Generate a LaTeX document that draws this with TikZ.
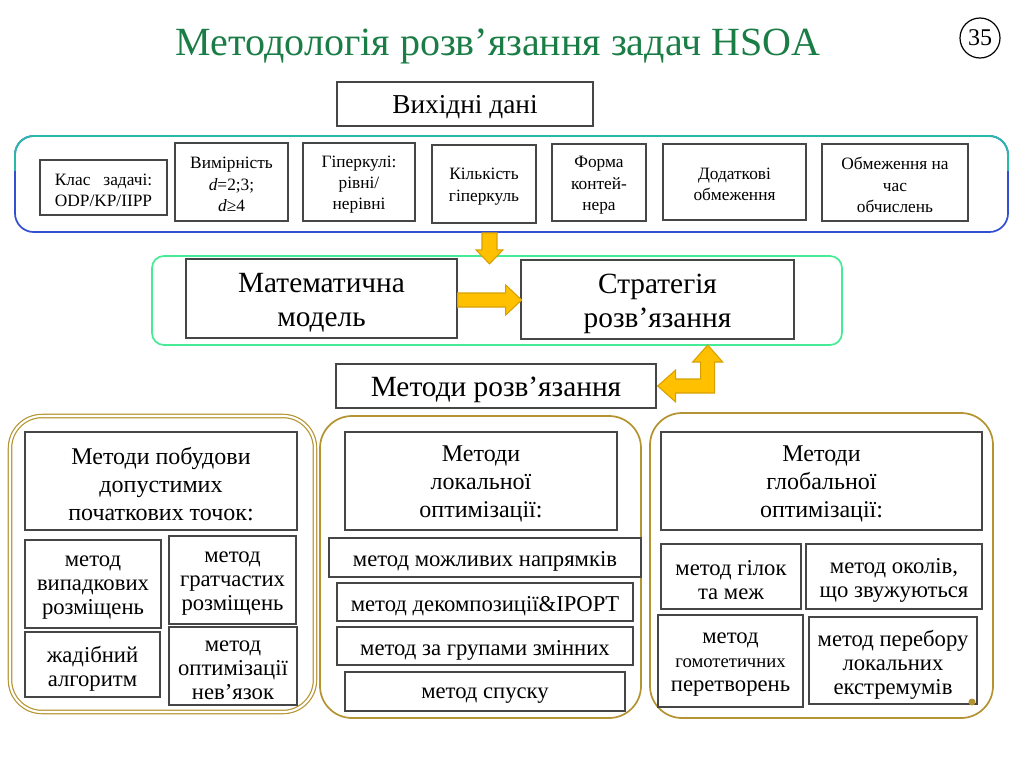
\documentclass[tikz,border=0pt]{standalone}
\usepackage{fontspec}
\setmainfont{Liberation Serif}
\usetikzlibrary{calc}
\definecolor{ttl}{RGB}{27,125,70}
\definecolor{bxc}{RGB}{70,70,70}
\definecolor{gold}{RGB}{180,148,50}
\definecolor{arrf}{RGB}{255,192,0}
\definecolor{arrd}{RGB}{215,160,0}
\definecolor{mint}{RGB}{70,235,150}
\definecolor{tealc}{RGB}{40,185,170}
\definecolor{bluec}{RGB}{50,80,210}
\tikzset{
  box/.style={draw=bxc, line width=1pt, fill=white, inner sep=0pt},
  btext/.style={align=center, inner sep=0pt},
  region/.style={line width=1.3pt, inner sep=0pt},
  blockarrow/.style={fill=arrf, draw=arrd, line width=0.8pt, line join=miter},
  fa/.style={font=\fontsize{13}{16}\selectfont},
  fb/.style={font=\fontsize{17}{18}\selectfont},
  fh/.style={font=\fontsize{18}{21}\selectfont},
  fm/.style={font=\fontsize{22}{25.5}\selectfont},
}
% box: name, x1, y1, x2, y2, text style, text, text drop
\newcommand\bx[8]{\node[box,minimum width={(#4-#2)*0.75pt},minimum height={(#5-#3)*0.75pt}] (#1) at ({(#2+#4)/2},{(#3+#5)/2}) {};
  \node[btext,#6] (#1t) at ([yshift=-#8]#1.center) {#7};}
\newcommand\myregion[7]{\node[region,#6,minimum width={(#4-#2)*0.75pt},minimum height={(#5-#3)*0.75pt}] (#1) at ({(#2+#4)/2},{(#3+#5)/2}) {#7};}
\begin{document}
\begin{tikzpicture}[x=0.75pt,y=-0.75pt]
\useasboundingbox (0,0) rectangle (1024,768);
% title
\node[text=ttl,font=\fontsize{30}{36}\selectfont] (title) at (498,46) {Методологія розв’язання задач HSOA};
\node[draw,circle,line width=0.9pt,minimum size={40*0.75pt},inner sep=0pt,font=\fontsize{18}{20}\selectfont] (num) at (980,38) {35};
% containers
\myregion{topc}{15}{136}{1008}{232}{draw=bluec,rounded corners=14pt}{}
\begin{scope}
\clip (0,0) rectangle (1024,170);
\myregion{topc2}{15}{136}{1008}{232}{draw=tealc,rounded corners=14pt}{}
\end{scope}
\myregion{midc}{152}{256}{842}{345}{draw=mint,rounded corners=9pt}{}
\myregion{lc}{10}{416}{315}{712}{draw=gold,line width=0.9pt,double=white,double distance=1.6pt,rounded corners=24pt}{}
\myregion{mc}{320}{416}{641}{718}{draw=gold,rounded corners=24pt}{}
\myregion{rc}{650}{413}{993}{718}{draw=gold,rounded corners=24pt}{}
% top
\bx{vd}{337}{82}{593}{126}{font=\fontsize{20.5}{22}\selectfont}{Вихідні дані}{2pt}
\bx{t1}{40}{160}{167}{215}{fa}{{\setbox0\hbox{ODP/KP/IIPP}\hbox to\wd0{Клас\hfill задачі:}}\\ODP/KP/IIPP}{2pt}
\bx{t2}{175}{143}{288}{221}{fa}{Вимірність\\\textit{d}=2;3;\\\textit{d}≥4}{2pt}
\bx{t3}{303}{143}{415}{221}{fa}{Гіперкулі:\\рівні/\\нерівні}{2pt}
\bx{t4}{432}{145}{536}{223}{fa}{Кількість\\гіперкуль}{2pt}
\bx{t5}{552}{144}{646}{221}{fa}{Форма\\контей-\\нера}{2pt}
\bx{t6}{663}{144}{806}{220}{fa}{Додаткові\\обмеження}{2pt}
\bx{t7}{822}{144}{968}{221}{fa}{Обмеження на\\час\\обчислень}{2pt}
% middle
\bx{mm}{186}{259}{457}{338}{fm}{Математична\\модель}{3pt}
\bx{st}{521}{260}{794}{339}{fm}{Стратегія\\розв'язання}{3pt}
\bx{mr}{336}{364}{656}{408}{font=\fontsize{22}{24}\selectfont}{Методи розв’язання}{3pt}
% arrows
\filldraw[blockarrow] ($(topc.south)+(-29.5,0)$) -- ++(15,0) -- ++(0,17) -- ++(6,0) -- ++(-13.5,14) -- ++(-13.5,-14) -- ++(6,0) -- cycle;
\filldraw[blockarrow] ($(mm.east)+(0,-5.5)$) -- ++(48,0) -- ++(0,-8) -- ++(16,15) -- ++(-16,15) -- ++(0,-8) -- ++(-48,0) -- cycle;
\begin{scope}[shift={(mr.east)}]
\filldraw[blockarrow] (1,0) -- (19,-16) -- (19,-7) -- (44,-7) -- (44,-24) -- (36,-24) -- (51,-41) -- (66,-24) -- (58,-24) -- (58,7) -- (19,7) -- (19,16) -- cycle;
\end{scope}
% left group
\bx{l0}{25}{432}{297}{530}{fh}{Методи побудови\\допустимих\\початкових точок:}{2pt}
\bx{l1}{25}{540}{161}{628}{fb}{метод\\випадкових\\розміщень}{3pt}
\bx{l2}{169}{536}{296}{624}{fb}{метод\\гратчастих\\розміщень}{3pt}
\bx{l3}{25}{632}{160}{697}{fb}{жадібний\\алгоритм}{3pt}
\bx{l4}{169}{627}{297}{705}{fb}{метод\\оптимізації\\нев’язок}{3pt}
% middle group
\bx{m0}{345}{432}{617}{530}{fh}{Методи\\локальної\\оптимізації:}{2pt}
\bx{m1}{329}{538}{641}{577}{fb}{метод можливих напрямків}{3pt}
\bx{m2}{337}{583}{633}{621}{fb}{метод декомпозиції\&IPOPT}{3pt}
\bx{m3}{337}{627}{633}{665}{fb}{метод за групами змінних}{3pt}
\bx{m4}{345}{672}{625}{711}{fb}{метод спуску}{3pt}
% right group
\bx{r0}{661}{432}{982}{530}{fh}{Методи\\глобальної\\оптимізації:}{2pt}
\bx{r1}{661}{544}{801}{609}{fb}{метод гілок\\та меж}{3pt}
\bx{r2}{806}{544}{982}{609}{fb}{метод околів,\\що звужуються}{3pt}
\bx{r3}{658}{615}{803}{707}{fb}{метод\\{\fontsize{14}{18}\selectfont гомотетичних}\\перетворень}{3pt}
\bx{r4}{809}{617}{977}{704}{fb}{метод перебору\\локальних\\екстремумів}{3pt}
\fill[gold] (972,702) circle (3.5);
\end{tikzpicture}
\end{document}
